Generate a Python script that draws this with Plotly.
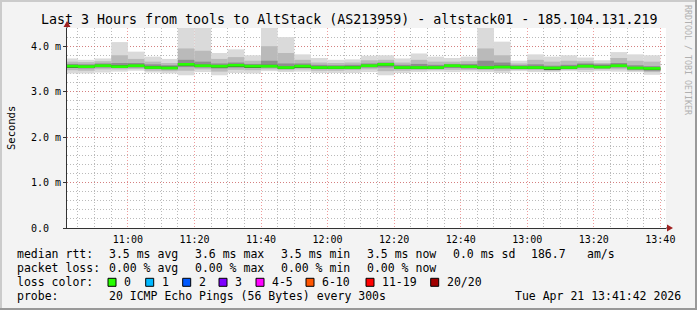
import plotly.graph_objects as go
import pandas as pd

# ---------------- data ----------------
bar_start = pd.date_range("2026-04-21 10:40", periods=36, freq="5min")

ping_max = [3.73, 3.70, 3.73, 4.09, 3.88, 3.77, 3.72, 4.40, 4.40, 3.85, 3.93, 3.80,
            4.40, 4.20, 3.82, 3.74, 3.70, 3.71, 3.79, 3.80, 3.73, 3.84, 3.77, 3.74,
            3.77, 4.40, 4.10, 3.68, 3.82, 3.77, 3.80, 3.75, 3.69, 3.87, 3.82, 3.80]
ping_p90 = [3.66, 3.65, 3.67, 3.80, 3.72, 3.66, 3.63, 3.95, 3.90, 3.72, 3.76, 3.68,
            4.00, 3.85, 3.70, 3.64, 3.63, 3.64, 3.69, 3.70, 3.64, 3.70, 3.66, 3.66,
            3.67, 3.95, 3.80, 3.62, 3.70, 3.66, 3.68, 3.67, 3.63, 3.74, 3.68, 3.66]
ping_p75 = [3.61, 3.60, 3.62, 3.63, 3.63, 3.60, 3.58, 3.70, 3.66, 3.62, 3.64, 3.61,
            3.68, 3.62, 3.62, 3.59, 3.58, 3.59, 3.62, 3.64, 3.59, 3.61, 3.59, 3.61,
            3.61, 3.68, 3.64, 3.58, 3.60, 3.57, 3.59, 3.62, 3.60, 3.63, 3.58, 3.56]
ping_p60 = [3.58, 3.57, 3.59, 3.58, 3.59, 3.56, 3.55, 3.63, 3.59, 3.58, 3.60, 3.58,
            3.59, 3.55, 3.58, 3.55, 3.55, 3.56, 3.59, 3.62, 3.55, 3.55, 3.55, 3.58,
            3.57, 3.55, 3.57, 3.55, 3.55, 3.53, 3.55, 3.59, 3.57, 3.59, 3.53, 3.52]
ping_median = [3.56, 3.55, 3.57, 3.55, 3.57, 3.53, 3.52, 3.60, 3.57, 3.56, 3.58, 3.56,
               3.56, 3.53, 3.56, 3.53, 3.53, 3.53, 3.57, 3.60, 3.53, 3.53, 3.53, 3.57,
               3.55, 3.53, 3.54, 3.53, 3.53, 3.52, 3.53, 3.56, 3.54, 3.57, 3.52, 3.51]
ping_p40 = [3.54, 3.53, 3.55, 3.53, 3.55, 3.51, 3.50, 3.57, 3.55, 3.53, 3.56, 3.54,
            3.54, 3.51, 3.54, 3.51, 3.51, 3.51, 3.55, 3.57, 3.51, 3.51, 3.51, 3.55,
            3.53, 3.51, 3.52, 3.51, 3.51, 3.49, 3.51, 3.54, 3.52, 3.55, 3.50, 3.48]
ping_p25 = [3.52, 3.51, 3.53, 3.52, 3.53, 3.50, 3.49, 3.54, 3.53, 3.51, 3.53, 3.52,
            3.53, 3.50, 3.52, 3.50, 3.50, 3.50, 3.53, 3.53, 3.50, 3.50, 3.50, 3.52,
            3.51, 3.50, 3.51, 3.50, 3.50, 3.48, 3.50, 3.53, 3.51, 3.53, 3.48, 3.46]
ping_p10 = [3.47, 3.46, 3.49, 3.49, 3.50, 3.46, 3.45, 3.46, 3.49, 3.44, 3.48, 3.47,
            3.49, 3.47, 3.49, 3.46, 3.46, 3.47, 3.49, 3.45, 3.46, 3.47, 3.48, 3.48,
            3.48, 3.47, 3.46, 3.48, 3.47, 3.46, 3.48, 3.48, 3.49, 3.49, 3.46, 3.43]
ping_min = [3.40, 3.40, 3.42, 3.44, 3.46, 3.42, 3.40, 3.36, 3.43, 3.36, 3.41, 3.40,
            3.45, 3.43, 3.44, 3.41, 3.41, 3.41, 3.43, 3.36, 3.41, 3.43, 3.44, 3.43,
            3.44, 3.43, 3.41, 3.45, 3.43, 3.43, 3.45, 3.43, 3.45, 3.44, 3.43, 3.37]

y_tickvals = [0, 1, 2, 3, 4]
y_ticktext = ["0.0\u00a0\u00a0", "1.0 m", "2.0 m", "3.0 m", "4.0 m"]

title_text = "Last 3 Hours from tools to AltStack (AS213959) - altstack01 - 185.104.131.219"
loss_labels = ["0", "1", "2", "3", "4-5", "6-10", "11-19", "20/20"]
loss_colors = ["#26ff00", "#00b8ff", "#0059ff", "#7e00ff", "#ff00ff", "#ff5500", "#ff0000", "#a10000"]

# ---------------- layout geometry ----------------
W, H = 697, 310
L, R, T, B = 67, 31, 28, 82
PW, PH = W - L - R, H - T - B
FONT = "DejaVu Sans Mono"


def px(x):
    return (x - L) / PW


def py(y):
    return (H - B - y) / PH


fig = go.Figure()

bands = [
    (ping_min, ping_max, "#dadada"),
    (ping_p10, ping_p90, "#bababa"),
    (ping_p25, ping_p75, "#8e8e8e"),
    (ping_p40, ping_p60, "#4a4a4a"),
]
for lo, hi, col in bands:
    fig.add_trace(go.Bar(
        x=bar_start, base=lo, y=[h - l for l, h in zip(lo, hi)],
        width=300000, offset=0, marker=dict(color=col, line=dict(width=0)),
        hoverinfo="skip", showlegend=False,
    ))

fig.add_trace(go.Bar(
    x=bar_start, base=[m - 0.03 for m in ping_median], y=[0.06] * len(ping_median),
    width=300000, offset=0, marker=dict(color="#26ff00", line=dict(width=0)),
    hoverinfo="skip", showlegend=False,
))

fig.update_layout(
    width=W, height=H, margin=dict(l=L, r=R, t=T, b=B),
    paper_bgcolor="#f3f3f3", plot_bgcolor="#ffffff",
    barmode="overlay", showlegend=False,
    font=dict(family=FONT, size=10, color="#000000"),
)

MAJ = "rgba(230,90,90,0.6)"
MIN = "rgba(140,140,140,0.6)"
DASH = "1px,2px"

fig.update_xaxes(
    type="date",
    range=["2026-04-21 10:41:42", "2026-04-21 13:41:42"],
    tick0="2026-04-21 11:00", dtick=1200000, tickformat="%H:%M",
    showgrid=True, gridcolor=MAJ, griddash=DASH, gridwidth=1,
    minor=dict(dtick=300000, tick0="2026-04-21 10:40", showgrid=True,
               gridcolor=MIN, griddash=DASH, gridwidth=1),
    showline=True, linecolor="#333333", linewidth=1,
    ticks="", ticklabelstandoff=2,
    tickfont=dict(family=FONT, size=10, color="#000000"),
    zeroline=False, fixedrange=True,
)
fig.update_yaxes(
    range=[0, 4.40],
    tickvals=y_tickvals, ticktext=y_ticktext,
    showgrid=True, gridcolor=MAJ, griddash=DASH, gridwidth=1,
    minor=dict(dtick=0.2, showgrid=True, gridcolor=MIN,
               griddash=DASH, gridwidth=1),
    showline=True, linecolor="#333333", linewidth=1,
    ticks="outside", ticklen=3, tickcolor="#333333",
    tickfont=dict(family=FONT, size=10, color="#000000"),
    zeroline=False, fixedrange=True,
)

shapes = []
# frame shading
shapes.append(dict(type="rect", xref="paper", yref="paper", x0=px(0), x1=px(W), y0=py(0), y1=py(2),
                   fillcolor="#cbcbcb", line=dict(width=0), layer="below"))
shapes.append(dict(type="rect", xref="paper", yref="paper", x0=px(0), x1=px(2), y0=py(0), y1=py(H),
                   fillcolor="#cbcbcb", line=dict(width=0), layer="below"))
shapes.append(dict(type="rect", xref="paper", yref="paper", x0=px(0), x1=px(W), y0=py(H - 2), y1=py(H),
                   fillcolor="#999999", line=dict(width=0), layer="below"))
shapes.append(dict(type="rect", xref="paper", yref="paper", x0=px(W - 2), x1=px(W), y0=py(0), y1=py(H),
                   fillcolor="#999999", line=dict(width=0), layer="below"))
# axis extensions and arrows
shapes.append(dict(type="line", xref="paper", yref="paper", x0=px(L), x1=px(L), y0=py(T), y1=py(24),
                   line=dict(color="#333333", width=1)))
shapes.append(dict(type="line", xref="paper", yref="paper", x0=px(L + PW), x1=px(668), y0=py(T + PH), y1=py(T + PH),
                   line=dict(color="#333333", width=1)))
shapes.append(dict(type="path", xref="paper", yref="paper",
                   path=f"M {px(L - 3.5)} {py(27)} L {px(L + 3.5)} {py(27)} L {px(L)} {py(21)} Z",
                   fillcolor="#a02020", line=dict(width=0)))
shapes.append(dict(type="path", xref="paper", yref="paper",
                   path=f"M {px(667)} {py(T + PH - 3.5)} L {px(667)} {py(T + PH + 3.5)} L {px(673)} {py(T + PH)} Z",
                   fillcolor="#a02020", line=dict(width=0)))

annotations = []


def txt(x, y, s, size=11.5, color="#000000", anchor="left", angle=0):
    annotations.append(dict(x=px(x), y=py(y), xref="paper", yref="paper", text=s,
                            showarrow=False, xanchor=anchor, yanchor="middle",
                            textangle=angle,
                            font=dict(family=FONT, size=size, color=color)))


txt(W / 2, 19, title_text, size=13.3, anchor="center")
txt(11, 128, "Seconds", size=10.5, anchor="center", angle=-90)
txt(688, 60, "RRDTOOL / TOBI OETIKER", size=8.3, color="#b0b0b0", anchor="center", angle=90)

# legend lines
y1, y2, y3, y4 = 254.3, 268.3, 282.3, 296.3
txt(15, y1, "median rtt:")
txt(106.5, y1, "3.5 ms avg")
txt(193, y1, "3.6 ms max")
txt(278.5, y1, "3.5 ms min")
txt(365, y1, "3.5 ms now")
txt(451, y1, "0.0 ms sd")
txt(529, y1, "186.7")
txt(585, y1, "am/s")

txt(15, y2, "packet loss:")
txt(106.5, y2, "0.00 % avg")
txt(192.5, y2, "0.00 % max")
txt(278.5, y2, "0.00 % min")
txt(365, y2, "0.00 % now")

txt(15, y3, "loss color:")
box_x = [108, 145.7, 182.7, 219, 256, 306, 366, 430.7]
for bx, lab, col in zip(box_x, loss_labels, loss_colors):
    shapes.append(dict(type="rect", xref="paper", yref="paper",
                       x0=px(bx), x1=px(bx + 8), y0=py(y3 + 4), y1=py(y3 - 4),
                       fillcolor=col, line=dict(color="#000000", width=1)))
    txt(bx + 14, y3, lab)

txt(15, y4, "probe:")
txt(106.5, y4, "20 ICMP Echo Pings (56 Bytes) every 300s")
txt(512.5, y4, "Tue Apr 21 13:41:42 2026")

fig.update_layout(shapes=shapes, annotations=annotations)

fig.write_html("out.html", config={"displayModeBar": False})
